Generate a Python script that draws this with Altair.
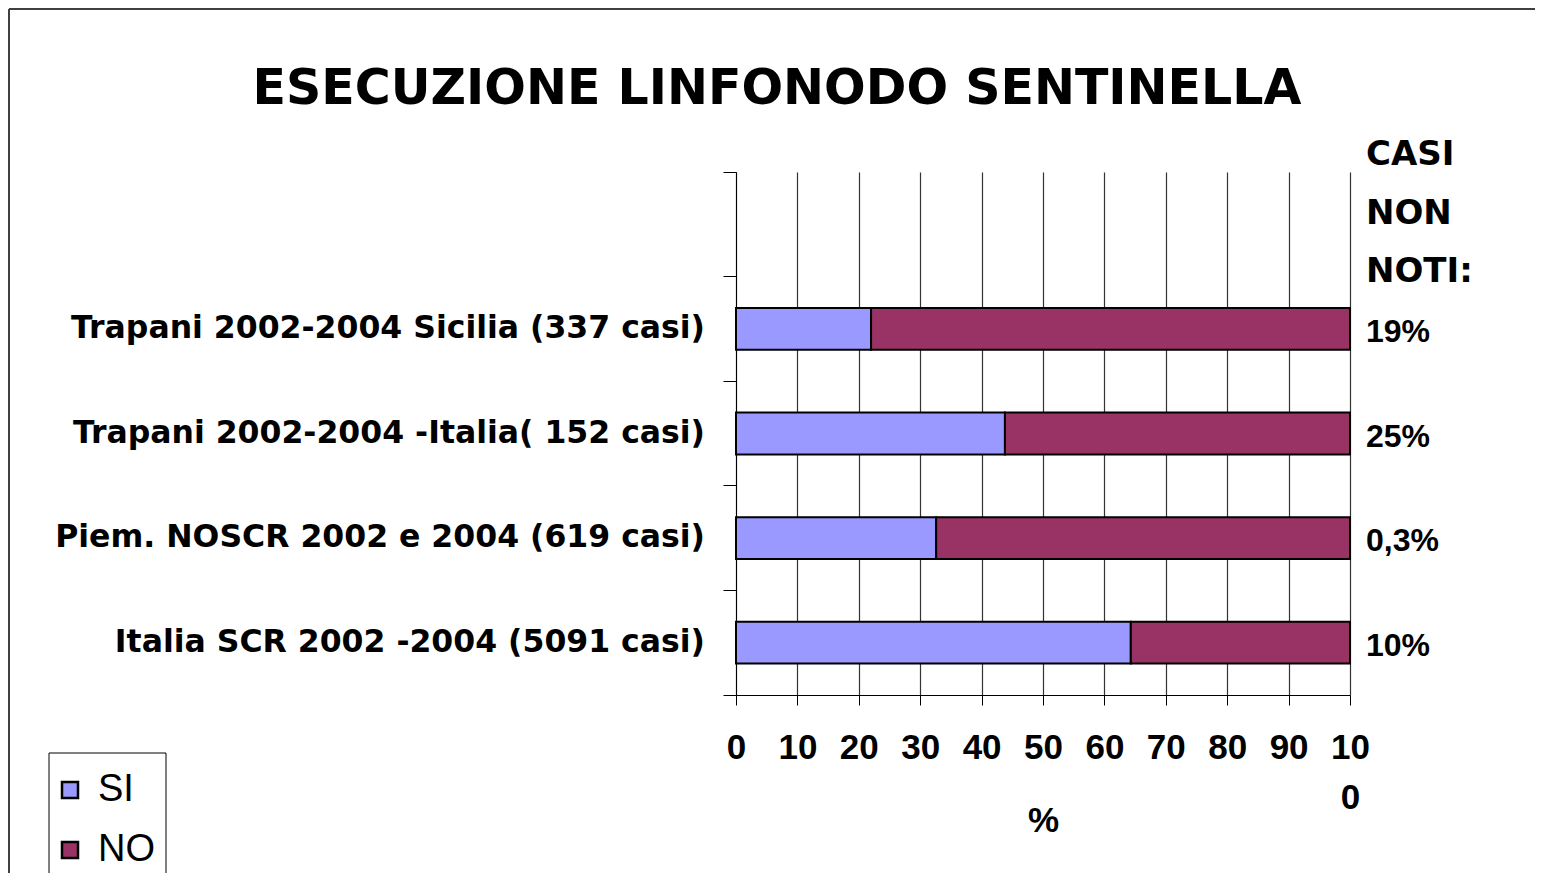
import altair as alt
import pandas as pd

categories = [
    "Trapani 2002-2004 Sicilia (337 casi)",
    "Trapani 2002-2004 -Italia( 152 casi)",
    "Piem. NOSCR 2002 e 2004 (619 casi)",
    "Italia SCR 2002 -2004 (5091 casi)",
]
si_values = [22.0, 43.8, 32.6, 64.3]
no_values = [78.0, 56.2, 67.4, 35.7]
unknown_labels = ["\u00a0\u00a019%", "25%", "0,3%", "10%"]
series = ["SI", "NO"]
colors = ["#9999FF", "#993366"]
x_ticks = [0, 10, 20, 30, 40, 50, 60, 70, 80, 90, 100]
title_text = "ESECUZIONE LINFONODO SENTINELLA"
side_header = ["CASI", "NON", "NOTI:"]
x_title = "%"

y_domain = [""] + categories

rows = []
for c, s, n in zip(categories, si_values, no_values):
    rows.append({"cat": c, "serie": "SI", "val": s, "ord": 0})
    rows.append({"cat": c, "serie": "NO", "val": n, "ord": 1})
bars_df = pd.DataFrame(rows)
lab_df = pd.DataFrame({"cat": categories, "lab": unknown_labels})
one = pd.DataFrame({"t": [title_text]})

W, H = 614, 523
PL, PT, PR, PB = 728, 164, 185, 178

COMIC = "DejaVu Sans"
NARROW = "Liberation Sans Narrow, Liberation Sans, Arial"

y_scale = alt.Scale(domain=y_domain, paddingInner=0, paddingOuter=0)
y_axis = alt.Axis(
    title=None, labels=False, ticks=True, tickSize=13, bandPosition=1,
    tickExtra=True, tickColor="black", domainColor="black", grid=False,
)
y_enc = alt.Y("cat:N", scale=y_scale, sort=y_domain, axis=y_axis)

x_axis = alt.Axis(
    values=x_ticks, grid=True, gridColor="#333333", gridWidth=1.2,
    tickSize=10, tickColor="black", domainColor="black",
    labelFont=NARROW, labelFontSize=35, labelFontWeight="bold", labelColor="black",
    labelExpr="datum.value == 100 ? ['10','0'] : datum.label",
    labelLineHeight=50, labelPadding=25, labelFlush=False, labelOverlap=False,
    title=x_title, titleFont=NARROW, titleFontSize=35, titleFontWeight="bold",
    titleColor="black", titlePadding=-12,
)

legend_box = alt.Chart(one).mark_rect(fill="white", stroke="black", strokeWidth=1).encode(
    x=alt.value(-687), x2=alt.value(-570), y=alt.value(581), y2=alt.value(720)
)

bars = alt.Chart(bars_df).mark_bar(
    height={"band": 0.4}, stroke="black", strokeWidth=2
).encode(
    y=y_enc,
    x=alt.X("val:Q", stack="zero", scale=alt.Scale(domain=[0, 100], nice=False), axis=x_axis),
    color=alt.Color(
        "serie:N",
        scale=alt.Scale(domain=series, range=colors),
        legend=alt.Legend(
            title=None, orient="none", legendX=-685, legendY=599,
            symbolType="square", symbolSize=256, symbolStrokeColor="black",
            symbolStrokeWidth=2.5, labelFont="Liberation Sans", labelFontSize=38,
            labelColor="black", labelOffset=9, rowPadding=22, padding=0,
        ),
    ),
    order=alt.Order("ord:Q"),
)

cat_labels = alt.Chart(lab_df).mark_text(
    align="right", baseline="middle", font=COMIC, fontSize=31.5, fontWeight="bold", color="black"
).encode(y=y_enc, x=alt.value(-31), text="cat:N")

pct_labels = alt.Chart(lab_df).mark_text(
    align="left", baseline="middle", font="Liberation Sans", fontSize=32,
    fontWeight="bold", color="black", dy=3
).encode(y=y_enc, x=alt.value(630), text="lab:N")

title = alt.Chart(one).mark_text(
    align="center", baseline="alphabetic", font=COMIC, fontSize=49, fontWeight="bold", color="black"
).encode(x=alt.value(41), y=alt.value(-68), text="t:N")

header = alt.Chart(one).mark_text(
    align="left", baseline="alphabetic", font=COMIC, fontSize=34, fontWeight="bold",
    color="black", lineHeight=58.5
).encode(x=alt.value(630), y=alt.value(-7), text=alt.value(side_header))

frame_left = alt.Chart(one).mark_rule(color="#404040", strokeWidth=2).encode(
    x=alt.value(-727), y=alt.value(-163), y2=alt.value(720)
)
frame_top = alt.Chart(one).mark_rule(color="#404040", strokeWidth=2).encode(
    x=alt.value(-727), x2=alt.value(820), y=alt.value(-163)
)

chart = alt.layer(
    legend_box, bars, cat_labels, pct_labels, title, header, frame_left, frame_top
).properties(
    width=W, height=H,
    autosize=alt.AutoSizeParams(type="none"),
    padding={"left": PL, "top": PT, "right": PR, "bottom": PB},
).configure_view(strokeWidth=0)

chart.save("out.html", embed_options={"renderer": "svg", "actions": False})
